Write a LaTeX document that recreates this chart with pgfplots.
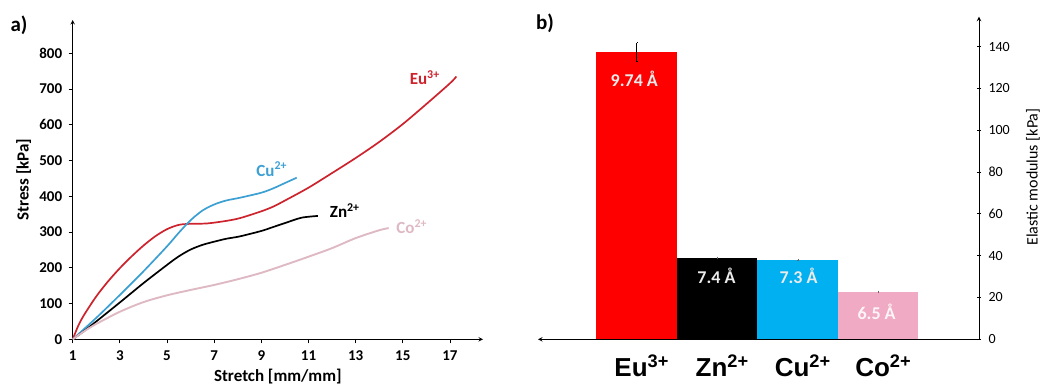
\documentclass[border=0pt]{standalone}
\usepackage{pgfplots}
\pgfplotsset{compat=1.18}
\usepackage{fontspec}
\setmainfont{Carlito}
\newfontfamily\arialfont{Liberation Sans}
\definecolor{cEu}{RGB}{205,35,45}
\definecolor{cCu}{RGB}{60,160,210}
\definecolor{cCo}{RGB}{222,185,195}
\definecolor{bEu}{RGB}{255,0,0}
\definecolor{bCu}{RGB}{0,176,240}
\definecolor{bCo}{RGB}{240,170,195}
\begin{document}
\begin{tikzpicture}
\path[use as bounding box] (0,0) rectangle (1045pt,390pt);
\node[anchor=center,font=\fontsize{21}{23}\selectfont\bfseries] at (19pt,365pt) {a)};
\node[anchor=center,font=\fontsize{21}{23}\selectfont\bfseries] at (545pt,367pt) {b)};
% ---------- left panel ----------
\begin{axis}[
  at={(72.7pt,50.7pt)}, anchor=south west,
  scale only axis, width=410.3pt, height=319.3pt,
  xmin=1, xmax=18.4, ymin=0, ymax=893,
  axis lines=left,
  axis line style={line width=1pt, -stealth},
  xtick={1,3,...,17}, ytick={0,100,...,800},
  tick style={black, line width=0.8pt},
  major tick length=4pt,
  tick align=outside,
  tick label style={font=\fontsize{15}{17}\selectfont\bfseries},
  x tick label style={yshift=-4pt},
  y tick label style={xshift=-3pt},
  /pgf/number format/assume math mode=true,
  xlabel={Stretch [mm/mm]}, ylabel={Stress [kPa]},
  label style={font=\fontsize{17}{19}\selectfont\bfseries},
  xlabel style={at={(axis description cs:0.5,0)}, anchor=north, yshift=-26pt},
  ylabel style={at={(axis description cs:0,0.5)}, anchor=south, yshift=38pt},
  clip=false,
]
\addplot[cEu, line width=1.7pt, smooth, tension=0.5] coordinates {
(1,0) (1.25,40) (1.5,70) (2,120) (2.5,162) (3,199) (3.5,232) (4,262) (4.5,288) (5,308) (5.5,320) (6,323) (6.7,324) (7.5,331) (8.1,339) (9,358) (9.5,371) (10,388) (11,424) (12,465) (13,507) (14,552) (15,602) (16,658) (17,716) (17.27,735)};
\addplot[cCu, line width=1.7pt, smooth, tension=0.5] coordinates {
(1,0) (2,60) (3,124) (4,190) (5,260) (5.5,298) (6,333) (6.5,360) (7,377) (7.5,388) (8.1,396) (9,410) (9.5,422) (10,437) (10.5,452)};
\addplot[black, line width=1.7pt, smooth, tension=0.5] coordinates {
(1,0) (1.5,24) (2,50) (3,103) (4,157) (5,208) (5.5,232) (6,251) (6.5,264) (7,273) (7.5,281) (8.1,288) (9,303) (9.5,314) (10,325) (10.7,340) (11.4,345)};
\addplot[cCo, line width=1.9pt, smooth, tension=0.5] coordinates {
(1,0) (1.5,23) (2,43) (3,77) (4,104) (5,123) (6,138) (7,152) (8,168) (9,186) (10,208) (11,231) (12,255) (13,283) (14,305) (14.4,311)};
\node[cEu, font=\fontsize{17}{19}\selectfont\bfseries] at (axis cs:15.93,731) {Eu\textsuperscript{3+}};
\node[cCu, font=\fontsize{17}{19}\selectfont\bfseries] at (axis cs:9.44,476) {Cu\textsuperscript{2+}};
\node[black, font=\fontsize{17}{19}\selectfont\bfseries] at (axis cs:12.54,359) {Zn\textsuperscript{2+}};
\node[cCo, font=\fontsize{17}{19}\selectfont\bfseries] at (axis cs:15.38,314) {Co\textsuperscript{2+}};
\end{axis}
% ---------- right panel ----------
\begin{axis}[
  at={(538pt,50.7pt)}, anchor=south west,
  scale only axis, width=441pt, height=322.6pt,
  xmin=-1.226, xmax=4.252, ymin=0, ymax=154.3,
  axis x line=bottom, axis y line=right,
  x axis line style={line width=1pt, stealth-},
  y axis line style={line width=1pt, -stealth},
  ybar, bar width=80.5pt, bar shift=0pt,
  xtick={0,1,2,3},
  xticklabels={Eu\textsuperscript{3+},Zn\textsuperscript{2+},Cu\textsuperscript{2+},Co\textsuperscript{2+}},
  xtick style={draw=none},
  x tick label style={font=\fontsize{26}{28}\selectfont\arialfont\bfseries, yshift=-8pt, xshift=5pt},
  ytick={0,20,...,140},
  ytick style={black, line width=0.8pt},
  major tick length=4pt,
  y tick label style={font=\fontsize{14}{16}\selectfont, xshift=4pt},
  /pgf/number format/assume math mode=true,
  ylabel={Elastic modulus [kPa]},
  ylabel style={font=\fontsize{16}{18}\selectfont, at={(axis description cs:1.122,0.503)}, anchor=center},
  clip=false,
]
\addplot[fill=bEu, draw=none, error bars/.cd, y dir=both, y explicit, error bar style={black, line width=0.8pt}, error mark options={mark size=0.5pt}] coordinates {(0,137.3) +- (0,4.5)};
\addplot[fill=black, draw=none, error bars/.cd, y dir=both, y explicit, error bar style={black!60, line width=0.6pt}, error mark options={mark size=0.5pt}] coordinates {(1,39.0) +- (0,0.3)};
\addplot[fill=bCu, draw=none, error bars/.cd, y dir=both, y explicit, error bar style={black!60, line width=0.6pt}, error mark options={mark size=0.5pt}] coordinates {(2,37.8) +- (0,0.3)};
\addplot[fill=bCo, draw=none, error bars/.cd, y dir=both, y explicit, error bar style={black!60, line width=0.6pt}, error mark options={mark size=0.5pt}] coordinates {(3,22.5) +- (0,0.3)};
\node[white!92!black, font=\fontsize{18}{20}\selectfont\bfseries] at (axis cs:-0.03,124.8) {9.74 Å};
\node[white!92!black, font=\fontsize{18}{20}\selectfont\bfseries] at (axis cs:0.99,30.5) {7.4 Å};
\node[white!92!black, font=\fontsize{18}{20}\selectfont\bfseries] at (axis cs:2.01,30.5) {7.3 Å};
\node[white!88!bCo, font=\fontsize{18}{20}\selectfont\bfseries] at (axis cs:2.98,13.2) {6.5 Å};
\end{axis}
\end{tikzpicture}
\end{document}
